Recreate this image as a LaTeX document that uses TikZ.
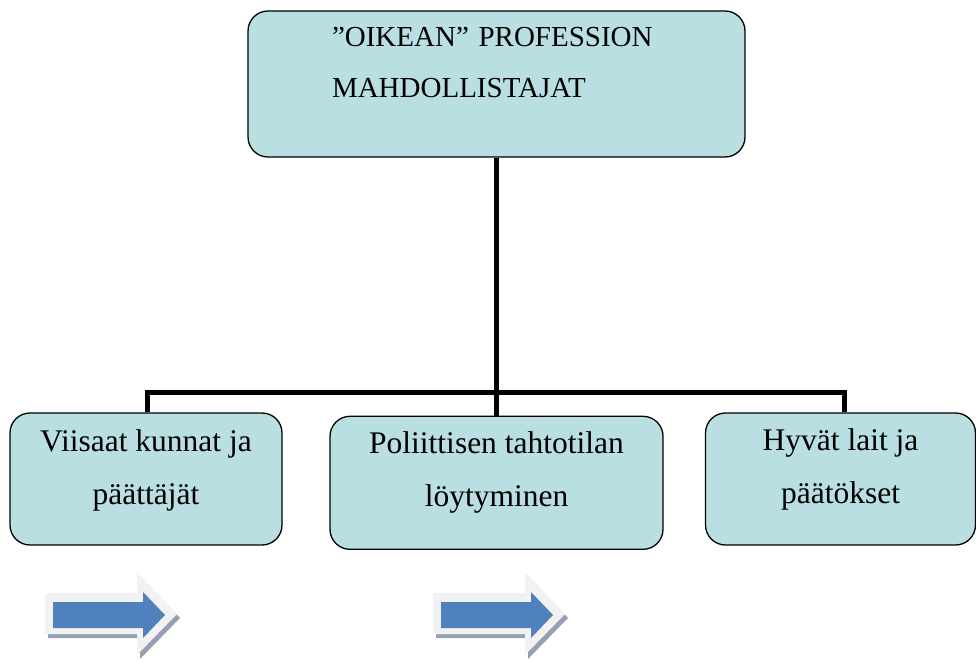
\documentclass[tikz,border=0pt]{standalone}
\usepackage{fontspec}
\setmainfont{Liberation Serif}
\usetikzlibrary{positioning}

\definecolor{boxfill}{RGB}{185,223,227}
\definecolor{arrowblue}{RGB}{79,129,189}
\definecolor{arrowrim}{RGB}{242,242,242}
\definecolor{arrowshade}{RGB}{150,160,176}
\newcommand{\gapbelow}[1]{\rule[-#1]{0pt}{0pt}}

\tikzset{
	box/.style={rectangle, rounded corners=20pt, draw, line width=1.3pt, fill=boxfill, inner sep=0pt, align=center, font=\fontsize{31.5}{53}\selectfont},
	link/.style={line width=5pt},
	blockarrow/.pic={
		\fill[arrowshade] (-5,-18) -- (87,-18) -- (87,-39) -- (127,3) -- (87,44) -- (87,23) -- (-5,23) -- cycle;
		\fill[arrowrim] (-8,-22) -- (84,-22) -- (84,-43) -- (124,-1) -- (84,40) -- (84,19) -- (-8,19) -- cycle;
		\fill[arrowblue] (0,-13) -- (90,-13) -- (90,-23) -- (112,0) -- (90,23) -- (90,13) -- (0,13) -- cycle;
	}
}

\begin{document}
\begin{tikzpicture}[x=1pt, y=-1pt]
		\useasboundingbox (0,0) rectangle (976,661);
		\node (top) [box, minimum width=497pt, minimum height=146pt, text width=329pt, align=left, font=\fontsize{29}{51}\selectfont] at (496.5,84) {”OIKEAN” PROFESSION\\MAHDOLLISTAJAT\gapbelow{42.6pt}};
		\node (left) [box, minimum width=272pt, minimum height=132pt] at (146,479) {Viisaat kunnat ja\\päättäjät\gapbelow{24pt}};
		\node (mid) [box, below=258pt of top, minimum width=333pt, minimum height=133pt] {Poliittisen tahtotilan\\löytyminen\gapbelow{27pt}};
		\node (right) [box, minimum width=270pt, minimum height=132pt] at (840.5,479) {Hyvät lait ja\\päätökset\gapbelow{26pt}};
		\coordinate (barleft) at (147,392);
		\coordinate (barright) at (844,392);
		\draw[link] (top.south) -- (mid.north);
		\draw[link] (barleft |- left.north) -- (barleft) -- (barright) -- (barright |- right.north);
		\pic (arrowone) at (53,615) {blockarrow};
		\pic (arrowtwo) at (441,615) {blockarrow};
	\end{tikzpicture}
\end{document}
